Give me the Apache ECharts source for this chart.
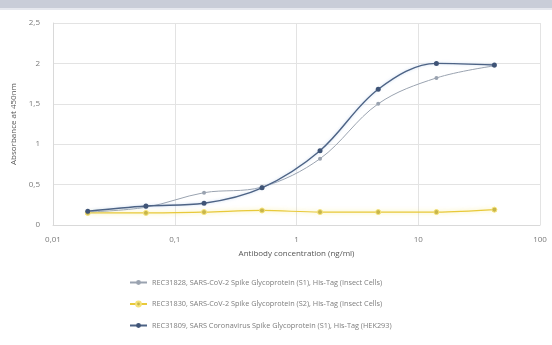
<!DOCTYPE html>
<html><head><meta charset="utf-8">
<script src="https://cdn.jsdelivr.net/npm/echarts@6/dist/echarts.min.js"></script>
<style>html,body{margin:0;padding:0;background:#fff}#c{width:552px;height:345px}</style>
</head><body><div id="c"></div>
<script>
const concentrations = [0.0193, 0.058, 0.174, 0.521, 1.56, 4.69, 14.1, 42.2];
const seriesNames = [
  'REC31828, SARS-CoV-2 Spike Glycoprotein (S1), His-Tag (Insect Cells)',
  'REC31830, SARS-CoV-2 Spike Glycoprotein (S2), His-Tag (Insect Cells)',
  'REC31809, SARS Coronavirus Spike Glycoprotein (S1), His-Tag (HEK293)'
];
const s1Insect = [0.16, 0.22, 0.40, 0.47, 0.82, 1.50, 1.82, 1.97];
const s2Insect = [0.15, 0.15, 0.16, 0.18, 0.16, 0.16, 0.16, 0.19];
const s1Hek = [0.17, 0.235, 0.27, 0.46, 0.92, 1.68, 2.00, 1.98];
const yTicks = ['0', '0,5', '1', '1,5', '2', '2,5'];
const xTicks = {0.01: '0,01', 0.1: '0,1', 1: '1', 10: '10', 100: '100'};

const pair = arr => concentrations.map((x, i) => [x, arr[i]]);
const chart = echarts.init(document.getElementById('c'));
const txt = '#7a7a7a';
chart.setOption({
  animation: false,
  textStyle: {fontFamily: 'Open Sans, sans-serif'},
  graphic: [
    {type: 'rect', shape: {x: 0, y: 0, width: 552, height: 8}, style: {fill: '#c9cdd8'}, silent: true},
    {type: 'rect', shape: {x: 0, y: 8, width: 552, height: 2}, style: {fill: '#e6e8ee'}, silent: true}
  ],
  grid: {left: 53, right: 12, top: 23, bottom: 120, containLabel: false},
  xAxis: {
    type: 'log', logBase: 10, min: 0.01, max: 100,
    name: 'Antibody concentration (ng/ml)', nameLocation: 'middle', nameGap: 25,
    nameTextStyle: {color: '#555', fontSize: 8},
    axisLine: {show: true, lineStyle: {color: '#d9d9d9'}},
    axisTick: {show: false},
    axisLabel: {color: txt, fontSize: 8, margin: 11, formatter: v => xTicks[v] !== undefined ? xTicks[v] : (+v.toPrecision(3) + '')},
    splitLine: {show: true, lineStyle: {color: '#e3e3e3'}},
    minorTick: {show: false}
  },
  yAxis: {
    type: 'value', min: 0, max: 2.5, interval: 0.5,
    name: 'Absorbance at 450nm', nameLocation: 'middle', nameGap: 27, nameRotate: 90,
    nameTextStyle: {color: '#555', fontSize: 8},
    axisLine: {show: true, lineStyle: {color: '#d9d9d9'}},
    axisTick: {show: false},
    axisLabel: {color: txt, fontSize: 8, margin: 13, formatter: (v, i) => yTicks[Math.round(v / 0.5)]},
    splitLine: {lineStyle: {color: '#e3e3e3'}}
  },
  legend: {
    orient: 'vertical', left: 124, top: 274, itemGap: 14.5,
    itemWidth: 17, itemHeight: 6,
    textStyle: {color: '#7d7d7d', fontSize: 7.3},
    data: seriesNames
  },
  series: [
    {name: seriesNames[0], type: 'line', data: pair(s1Insect), smooth: 0.35,
     symbol: 'circle', symbolSize: 4,
     lineStyle: {color: '#9aa3b0', width: 1}, itemStyle: {color: '#9aa3b0'}},
    {name: seriesNames[1], type: 'line', data: pair(s2Insect), smooth: 0.35,
     symbol: 'circle', symbolSize: 5,
     lineStyle: {color: '#e8c93a', width: 1.2, shadowColor: 'rgba(245,225,90,0.7)', shadowBlur: 4},
     itemStyle: {color: '#c8b64a', borderColor: '#f5e27a', borderWidth: 1}},
    {name: seriesNames[2], type: 'line', data: pair(s1Hek), smooth: 0.35,
     symbol: 'circle', symbolSize: 5,
     lineStyle: {color: '#4d6385', width: 1.4, shadowColor: 'rgba(160,190,230,0.6)', shadowBlur: 3},
     itemStyle: {color: '#3f5477'}}
  ]
});
</script></body></html>
